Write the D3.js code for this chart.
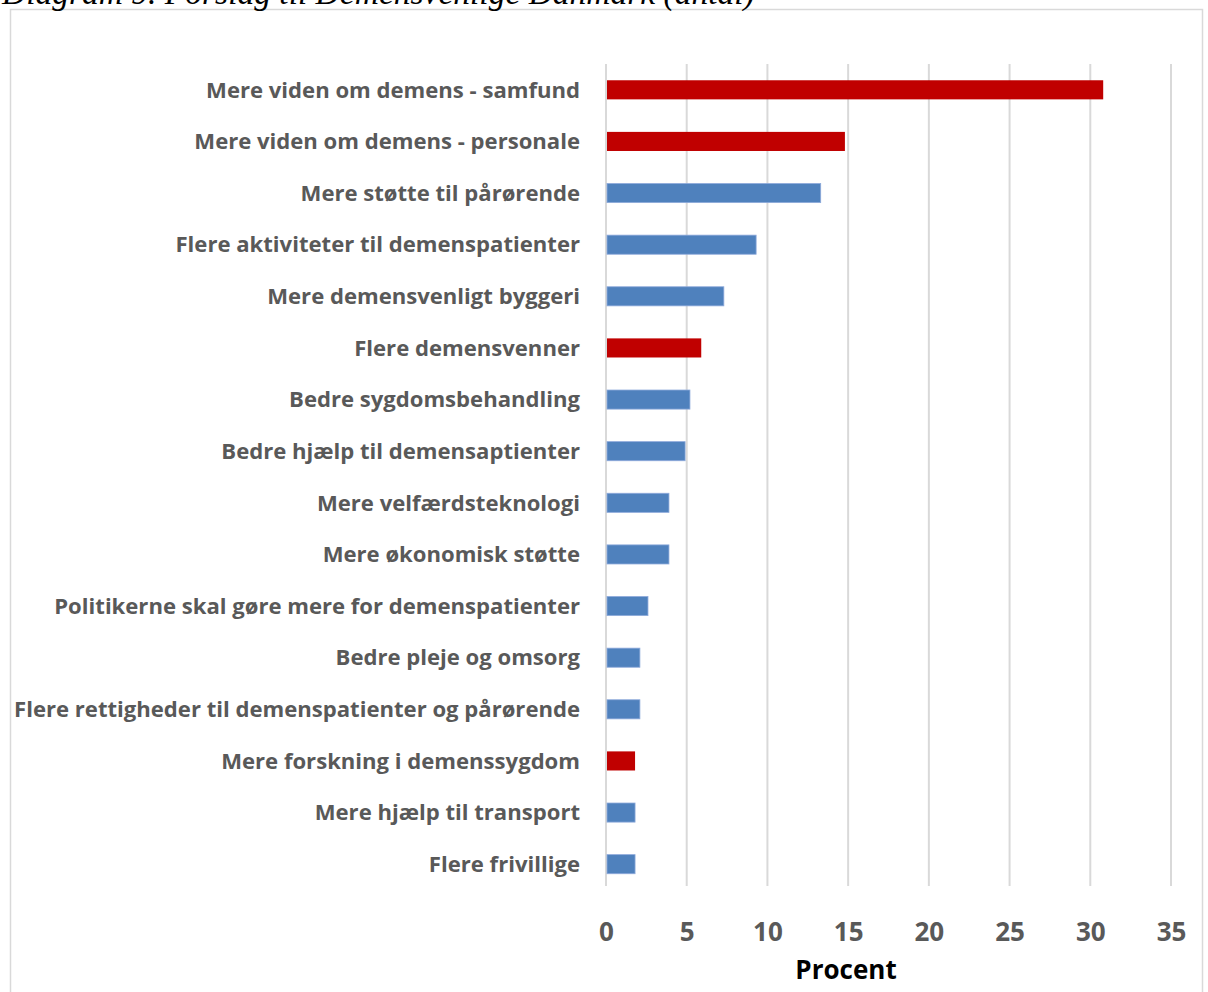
<!DOCTYPE html>
<html>
<head>
<meta charset="utf-8">
<script src="https://cdn.jsdelivr.net/npm/d3@7"></script>
<style>
  html, body { margin: 0; padding: 0; background: #fff; }
  svg { display: block; }
</style>
</head>
<body>
<svg id="chart" width="1208" height="992"></svg>
<script>
const categories = [
  "Mere viden om demens - samfund",
  "Mere viden om demens - personale",
  "Mere støtte til pårørende",
  "Flere aktiviteter til demenspatienter",
  "Mere demensvenligt byggeri",
  "Flere demensvenner",
  "Bedre sygdomsbehandling",
  "Bedre hjælp til demensaptienter",
  "Mere velfærdsteknologi",
  "Mere økonomisk støtte",
  "Politikerne skal gøre mere for demenspatienter",
  "Bedre pleje og omsorg",
  "Flere rettigheder til demenspatienter og pårørende",
  "Mere forskning i demenssygdom",
  "Mere hjælp til transport",
  "Flere frivillige"
];
const values = [30.8, 14.8, 13.3, 9.3, 7.3, 5.9, 5.2, 4.9, 3.9, 3.9, 2.6, 2.1, 2.1, 1.8, 1.8, 1.8];
const highlighted = [true, true, false, false, false, true, false, false, false, false, false, false, false, true, false, false];
const xTicks = [0, 5, 10, 15, 20, 25, 30, 35];
const titleText = "Diagram 9. Forslag til Demensvenlige Danmark (antal)";
const axisTitle = "Procent";

const svg = d3.select("#chart");
const plot = { left: 606, right: 1171, top: 64, bottom: 886 };

// chart frame
svg.append("rect")
  .attr("x", 10.5).attr("y", 9.5)
  .attr("width", 1192).attr("height", 1000)
  .attr("fill", "#fff").attr("stroke", "#D9D9D9").attr("stroke-width", 1.5);

// title, partly cut off above the frame as in the source
svg.append("text")
  .attr("x", 2).attr("y", 4)
  .attr("font-family", "Liberation Serif, serif")
  .attr("font-style", "italic")
  .attr("font-size", 33.5)
  .attr("fill", "#000")
  .text(titleText);

const x = d3.scaleLinear().domain([0, 35]).range([plot.left, plot.right]);
const y = d3.scaleBand().domain(categories).range([64, 890]).paddingInner(0.63).paddingOuter(0.315);

// gridlines
svg.append("g")
  .selectAll("line")
  .data(xTicks)
  .join("line")
  .attr("x1", d => x(d)).attr("x2", d => x(d))
  .attr("y1", plot.top).attr("y2", plot.bottom)
  .attr("stroke", "#D9D9D9").attr("stroke-width", 2);

// bars
svg.append("g")
  .selectAll("rect")
  .data(values)
  .join("rect")
  .attr("x", x(0) + 1)
  .attr("y", (d, i) => y(categories[i]))
  .attr("width", d => x(d) - x(0) - 1)
  .attr("height", y.bandwidth())
  .attr("fill", (d, i) => highlighted[i] ? "#C00000" : "#4F81BD")
  .attr("stroke", (d, i) => highlighted[i] ? "none" : "#8EAADB")
  .attr("stroke-width", 0.8);

// category labels
svg.append("g")
  .selectAll("text")
  .data(categories)
  .join("text")
  .attr("x", 580)
  .attr("y", d => y(d) + y.bandwidth() / 2)
  .attr("dy", "0.35em")
  .attr("text-anchor", "end")
  .attr("font-family", "Open Sans, sans-serif")
  .attr("font-weight", "bold")
  .attr("font-size", 22.1)
  .attr("fill", "#595959")
  .text(d => d);

// x axis tick labels
const xAxis = d3.axisBottom(x).tickValues(xTicks).tickSize(0).tickPadding(0);
const gx = svg.append("g").attr("transform", `translate(0, 922)`).call(xAxis);
gx.select(".domain").remove();
gx.selectAll("text")
  .attr("font-family", "Open Sans, sans-serif")
  .attr("font-weight", "bold")
  .attr("font-size", 26)
  .attr("fill", "#595959")
  .attr("dy", "0.35em")
  .attr("y", 10);

// axis title
svg.append("text")
  .attr("x", 846).attr("y", 970)
  .attr("dy", "0.35em")
  .attr("text-anchor", "middle")
  .attr("font-family", "Open Sans, sans-serif")
  .attr("font-weight", "bold")
  .attr("font-size", 26)
  .attr("fill", "#000")
  .text(axisTitle);
</script>
</body>
</html>
